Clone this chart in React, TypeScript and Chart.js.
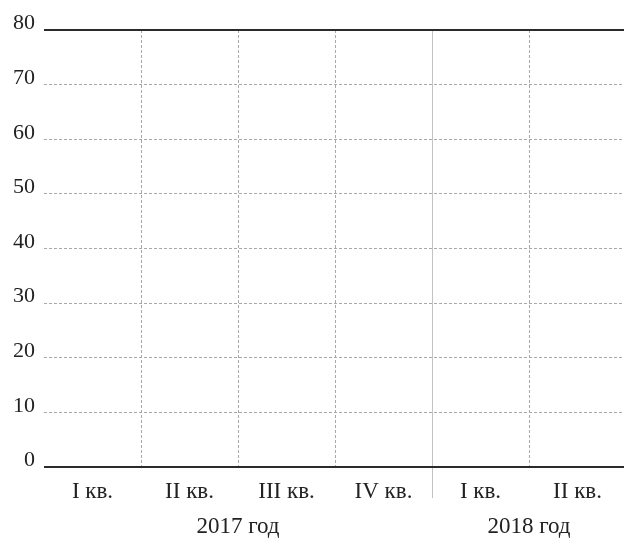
import React, { useEffect, useRef } from 'react';
import { Chart, registerables } from 'chart.js';

Chart.register(...registerables);

const quarterLabels: string[] = ['I кв.', 'II кв.', 'III кв.', 'IV кв.', 'I кв.', 'II кв.'];
const yearLabels: string[] = ['2017 год', '2018 год'];
const quartersPerYear: number[] = [4, 2];
const seriesValues: (number | null)[] = [null, null, null, null, null, null];
const yMin = 0;
const yMax = 80;
const yStep = 10;

const FONT = "'Liberation Serif', 'Times New Roman', serif";
const TEXT = '#222222';
const DASH_GRAY = '#a8a8a8';
const DIVIDER_GRAY = '#c2c2c2';
const EDGE = '#2b2b2b';
const CLEAR = 'rgba(0,0,0,0)';

export default function App() {
  const ref = useRef<HTMLCanvasElement>(null);

  useEffect(() => {
    document.documentElement.style.overflow = 'hidden';
    const n = quarterLabels.length;
    const yearCenters: number[] = [];
    let acc = 0;
    for (const q of quartersPerYear) {
      yearCenters.push(acc + (q - 1) / 2);
      acc += q;
    }
    const dividerIndex = quartersPerYear[0];
    const isEdge = (c: any) => c.tick && (c.tick.value === yMin || c.tick.value === yMax);

    const chart = new Chart(ref.current as HTMLCanvasElement, {
      type: 'bar',
      data: {
        labels: quarterLabels,
        datasets: [{ label: 'series', data: seriesValues as any, backgroundColor: '#888' }],
      },
      options: {
        animation: false,
        responsive: false,
        devicePixelRatio: 1,
        layout: { padding: { left: 4, top: 30, right: 0, bottom: 0 } },
        plugins: { legend: { display: false }, tooltip: { enabled: false } },
        scales: {
          x: {
            type: 'category',
            position: 'bottom',
            weight: 0,
            offset: true,
            afterFit: (scale: any) => {
              scale.height = 43;
            },
            grid: {
              offset: true,
              drawOnChartArea: true,
              drawTicks: true,
              tickLength: 31,
              lineWidth: 1,
              tickWidth: 1,
              color: (c: any) =>
                typeof c.index === 'number' && c.index > 0 && c.index < n
                  ? c.index === dividerIndex
                    ? DIVIDER_GRAY
                    : DASH_GRAY
                  : CLEAR,
              tickColor: (c: any) => (c.index === dividerIndex ? DIVIDER_GRAY : CLEAR),
            },
            border: {
              display: false,
              dash: (c: any) => (c.index === dividerIndex ? [] : [3, 2]),
            } as any,
            ticks: {
              padding: -20.3,
              maxRotation: 0,
              minRotation: 0,
              autoSkip: false,
              color: TEXT,
              font: { family: FONT, size: 23 },
            },
          },
          x2: {
            type: 'linear',
            position: 'bottom',
            weight: 1,
            offset: false,
            bounds: 'data',
            min: -0.5,
            max: n - 0.5,
            afterBuildTicks: (scale: any) => {
              scale.ticks = yearCenters.map((v) => ({ value: v }));
            },
            afterFit: (scale: any) => {
              scale.height = 29;
            },
            grid: {
              display: true,
              offset: false,
              drawOnChartArea: false,
              drawTicks: true,
              tickLength: 5.5,
              color: CLEAR,
              tickColor: CLEAR,
            },
            border: { display: false },
            ticks: {
              padding: 0,
              maxRotation: 0,
              minRotation: 0,
              autoSkip: false,
              color: TEXT,
              font: { family: FONT, size: 23, lineHeight: 1.0 },
              callback: (_v: any, i: number) => yearLabels[i],
            },
          },
          y: {
            min: yMin,
            max: yMax,
            grid: {
              drawTicks: false,
              color: (c: any) => (isEdge(c) ? EDGE : DASH_GRAY),
              lineWidth: (c: any) => (isEdge(c) ? 2 : 1),
            },
            border: {
              display: false,
              dash: (c: any) => (isEdge(c) ? [] : [3, 2]),
            } as any,
            ticks: {
              stepSize: yStep,
              padding: 9,
              labelOffset: -6.5,
              color: TEXT,
              font: { family: FONT, size: 22 },
            },
          },
        },
      } as any,
    });
    return () => chart.destroy();
  }, []);

  return (
    <canvas
      ref={ref}
      width={626}
      height={539}
      style={{ position: 'fixed', left: 0, top: 0 }}
    />
  );
}
